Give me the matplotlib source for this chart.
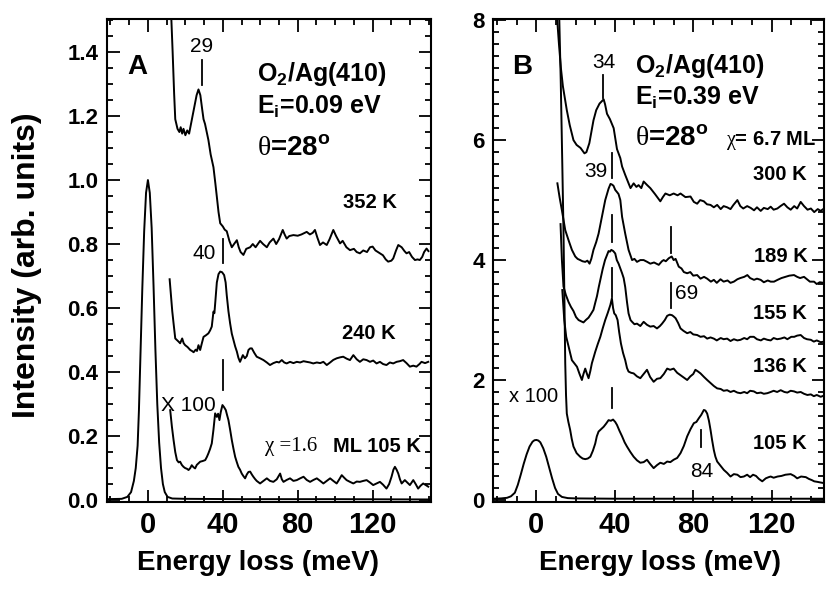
import numpy as np
import matplotlib
matplotlib.use("Agg")
import matplotlib.pyplot as plt
from matplotlib.ticker import MultipleLocator

# ---- data (energy loss meV, intensity) ----
# panel A, Ei = 0.09 eV
A_ELASTIC = [(-22, 0.003), (-14, 0.004), (-11, 0.01), (-9, 0.025), (-7.5, 0.06), (-6.5, 0.1),
             (-5.5, 0.17), (-4.8, 0.28), (-4, 0.45), (-3, 0.66), (-2, 0.84), (-1, 0.96), (0, 1.0),
             (1, 0.96), (2, 0.85), (3, 0.67), (4, 0.47), (5, 0.3), (6, 0.18), (7, 0.1), (8, 0.05),
             (9, 0.025), (10.5, 0.01), (13, 0.005), (20, 0.004), (50, 0.003), (100, 0.003), (150, 0.002)]

A_352K = [(12.2, 1.55), (13.2, 1.4), (14.0, 1.27), (14.6, 1.19), (15.8, 1.16), (16.8, 1.15), (17.5, 1.165),
          (18.3, 1.145), (19, 1.16), (20, 1.14), (21, 1.155), (22, 1.145), (23.5, 1.19), (25, 1.235),
          (26, 1.265), (27, 1.283), (28, 1.265), (29, 1.22), (29.7, 1.19), (30.5, 1.175), (32.3, 1.125),
          (33.5, 1.08), (35, 1.04), (36, 0.99), (36.8, 0.948), (37.7, 0.9), (38.6, 0.865), (40, 0.855),
          (41, 0.845), (42.1, 0.84), (43.5, 0.81), (44.8, 0.79), (46, 0.8), (47.5, 0.812), (48.5, 0.79),
          (49.5, 0.775), (51, 0.766), (52.5, 0.785), (54.6, 0.79), (56, 0.8), (57.5, 0.79), (59.9, 0.81),
          (61.5, 0.8), (63.5, 0.79), (65, 0.805), (67, 0.817), (68.5, 0.8), (70, 0.815), (72, 0.844),
          (73, 0.83), (74.1, 0.817), (75.5, 0.825), (77.7, 0.828), (80, 0.826), (82, 0.83), (84.8, 0.838),
          (86.5, 0.83), (88, 0.835), (89.2, 0.844), (90.5, 0.82), (91.9, 0.797), (93.5, 0.805),
          (95.5, 0.797), (97, 0.815), (99, 0.844), (100.5, 0.825), (102.6, 0.802), (104, 0.81),
          (106, 0.79), (107.9, 0.781), (110, 0.785), (111.5, 0.775), (113.2, 0.771), (115, 0.78),
          (117, 0.775), (118.6, 0.79), (120, 0.792), (121.5, 0.78), (123.9, 0.771), (125.5, 0.765),
          (127, 0.752), (128.3, 0.745), (130, 0.748), (131, 0.755), (132.5, 0.78), (133.7, 0.797),
          (135.5, 0.79), (137, 0.778), (138.1, 0.771), (139.5, 0.775), (141, 0.76), (142.6, 0.75),
          (144, 0.752), (145.2, 0.75), (146.5, 0.76), (147.5, 0.775), (148.8, 0.786), (149.8, 0.778)]

A_240K = [(11.6, 0.69), (12.3, 0.64), (13, 0.59), (13.7, 0.552), (14.6, 0.505), (15.5, 0.5), (16.4, 0.495),
          (17.2, 0.49), (18.3, 0.505), (19.1, 0.49), (19.9, 0.484), (21.2, 0.478), (22.6, 0.469),
          (23.5, 0.466), (24.4, 0.462), (25.5, 0.47), (26.2, 0.466), (27, 0.484), (27.9, 0.469),
          (28.8, 0.49), (29.7, 0.51), (31, 0.515), (32.3, 0.521), (33.2, 0.53), (34.1, 0.542), (35, 0.589),
          (35.5, 0.584), (36, 0.62), (36.8, 0.68), (37.7, 0.706), (38.6, 0.714), (39.6, 0.712),
          (40.7, 0.703), (41.5, 0.68), (42.1, 0.64), (43, 0.59), (43.9, 0.552), (44.8, 0.52), (45.7, 0.5),
          (46.6, 0.48), (47.5, 0.464), (48.3, 0.445), (49.2, 0.432), (50.7, 0.453), (51.8, 0.443),
          (52.8, 0.45), (53.7, 0.469), (54.6, 0.474), (55.5, 0.474), (56.8, 0.46), (58.1, 0.448),
          (59.9, 0.443), (61.7, 0.4375), (63.5, 0.43), (65.2, 0.422), (67, 0.428), (68.8, 0.432),
          (70, 0.43), (71.5, 0.4375), (72.8, 0.43), (74.1, 0.427), (75.9, 0.432), (77.7, 0.428),
          (79.5, 0.432), (81.3, 0.43), (83.1, 0.434), (84.8, 0.432), (86.6, 0.43), (88.3, 0.427),
          (90.2, 0.43), (92, 0.428), (93.7, 0.432), (95.5, 0.422), (97.3, 0.43), (99, 0.438),
          (100.8, 0.443), (102.6, 0.446), (104.3, 0.448), (106.1, 0.442), (107.9, 0.4375), (109.7, 0.453),
          (111.5, 0.44), (113.2, 0.432), (115, 0.44), (116.8, 0.4375), (118.6, 0.432), (120.3, 0.436),
          (122.1, 0.427), (123.9, 0.432), (125.6, 0.425), (127.4, 0.422), (129.2, 0.43), (131, 0.427),
          (132.8, 0.432), (134.5, 0.434), (136.3, 0.4375), (138.1, 0.428), (139.9, 0.417), (141.7, 0.42),
          (143.4, 0.417), (145, 0.425), (146.1, 0.432), (148, 0.428), (149.7, 0.432)]

A_105K = [(11.9, 0.281), (12.8, 0.23), (13.7, 0.1875), (14.6, 0.15), (15.5, 0.125), (16.4, 0.118),
          (17.2, 0.12), (18.1, 0.11), (19, 0.104), (19.9, 0.1), (20.8, 0.098), (21.7, 0.094), (22.6, 0.1),
          (23.4, 0.109), (24.3, 0.103), (25.2, 0.099), (26.1, 0.11), (27, 0.115), (27.9, 0.12),
          (29.2, 0.122), (30.6, 0.125), (31.5, 0.135), (32.3, 0.146), (33.2, 0.16), (34.1, 0.177),
          (35, 0.22), (35.9, 0.271), (36.8, 0.26), (37.5, 0.27), (38.2, 0.25), (38.9, 0.275),
          (39.8, 0.297), (40.7, 0.29), (41.6, 0.281), (42.3, 0.265), (43, 0.25), (43.9, 0.22),
          (44.8, 0.1875), (45.7, 0.16), (46.6, 0.135), (47.5, 0.118), (48.3, 0.104), (49.2, 0.095),
          (50.1, 0.083), (51, 0.075), (51.9, 0.068), (52.8, 0.08), (53.7, 0.088), (54.6, 0.089),
          (55.5, 0.08), (56.3, 0.073), (57.2, 0.066), (58.1, 0.06), (59.9, 0.052), (61.7, 0.06),
          (63.5, 0.068), (65.2, 0.06), (67, 0.057), (68.8, 0.065), (70.6, 0.083), (71.5, 0.065),
          (72.4, 0.057), (74.1, 0.063), (75.9, 0.068), (77.7, 0.06), (79.5, 0.0625), (81.3, 0.068),
          (83.1, 0.073), (84.8, 0.063), (86.6, 0.057), (88.4, 0.063), (90.2, 0.068), (92, 0.06),
          (93.7, 0.052), (95.5, 0.06), (97.3, 0.068), (99, 0.06), (100.8, 0.052), (102.2, 0.065),
          (103.5, 0.078), (104.8, 0.07), (106.1, 0.0625), (107.9, 0.057), (109.7, 0.052), (111.5, 0.058),
          (113.2, 0.057), (115, 0.06), (116.8, 0.0625), (118.6, 0.055), (120.3, 0.047), (122.1, 0.052),
          (123.9, 0.057), (125.6, 0.048), (127.4, 0.036), (128.8, 0.05), (130.1, 0.073), (131.1, 0.095),
          (131.9, 0.104), (132.8, 0.095), (133.7, 0.083), (134.6, 0.065), (135.5, 0.052), (137.2, 0.0625),
          (138.5, 0.055), (139.9, 0.047), (141.7, 0.0625), (143, 0.05), (144.3, 0.036), (145.6, 0.045),
          (147, 0.052), (148.4, 0.047), (149.7, 0.042)]

# panel B, Ei = 0.39 eV
B_ELASTIC = [(-22, 0.02), (-18, 0.025), (-15, 0.035), (-13, 0.06), (-11, 0.12), (-9.5, 0.25), (-8, 0.42),
             (-6.5, 0.6), (-5, 0.76), (-3.5, 0.89), (-2, 0.97), (-1, 0.995), (0, 1.0), (1, 0.99), (2, 0.96),
             (3.5, 0.86), (5, 0.72), (6.5, 0.54), (8, 0.36), (9.5, 0.2), (11, 0.1), (13, 0.05), (16, 0.03),
             (20, 0.025), (40, 0.02), (80, 0.02), (146, 0.02)]

B_300K = [(10.4, 8.1), (11.5, 7.6), (12.5, 7.2), (13.5, 6.9), (14.5, 6.7), (15.5, 6.5), (17, 6.25),
          (18.9, 6.0), (20.5, 5.92), (22.5, 5.87), (24.5, 5.78), (25.5, 5.8), (27, 5.95), (29.1, 6.33),
          (30.5, 6.5), (32.2, 6.61), (34.3, 6.68), (35, 6.6), (36, 6.44), (37.5, 6.35), (39.4, 6.2),
          (41.1, 5.85), (42.8, 5.7), (43.7, 5.56), (45.3, 5.42), (47, 5.28), (48, 5.2), (49.6, 5.28),
          (51, 5.22), (52.1, 5.25), (53.5, 5.2), (54.7, 5.31), (56.5, 5.25), (58.1, 5.2), (60.5, 5.1),
          (63.2, 4.98), (64.5, 5.05), (65.8, 5.11), (68, 5.08), (70, 5.11), (72, 5.08), (73.5, 5.11),
          (76, 5.05), (78.6, 5.06), (80.3, 4.97), (82, 4.94), (83.5, 5.0), (85.4, 4.98), (87, 4.93),
          (88.8, 4.92), (90.5, 4.88), (92.2, 4.92), (94, 4.85), (95.5, 4.9), (97.3, 4.88), (99, 4.85),
          (100.5, 4.92), (102.5, 5.0), (104, 4.9), (105.5, 4.86), (107.5, 4.9), (109.3, 4.87), (111, 4.83),
          (112.5, 4.88), (114.4, 4.82), (116, 4.87), (118, 4.85), (119.5, 4.89), (121, 4.84), (122.9, 4.86),
          (124.5, 4.9), (126.3, 4.94), (128, 4.88), (129.7, 4.84), (131.5, 4.9), (133, 4.86), (134.8, 4.97),
          (136.5, 4.9), (138.3, 4.84), (140, 4.86), (141.7, 4.8), (143.5, 4.85), (145, 4.82), (146.7, 4.86)]

B_189K = [(10.7, 5.28), (11.8, 5.05), (13, 4.83), (14.7, 4.5), (16.4, 4.33), (18.1, 4.17), (19.8, 4.06),
          (21, 4.02), (22.3, 4.0), (23.5, 3.98), (24.9, 3.97), (26, 3.99), (27.1, 3.94), (28, 4.02),
          (29.1, 4.17), (30.5, 4.3), (31.7, 4.44), (33.4, 4.72), (35.1, 5.0), (36.8, 5.19), (37.8, 5.27),
          (38.5, 5.26), (39.3, 5.24), (40.2, 5.17), (41.2, 5.13), (41.9, 5.1), (42.8, 5.0), (43.7, 4.72),
          (45.3, 4.44), (47, 4.17), (48.8, 4.0), (50, 4.02), (51.3, 3.97), (53, 4.0), (54.7, 4.0),
          (56.5, 3.97), (58.1, 3.94), (60, 3.96), (62.4, 3.92), (64, 3.98), (64.9, 4.0), (66, 3.98),
          (67.5, 4.03), (69, 4.06), (70, 4.0), (71, 4.02), (72.6, 3.89), (74, 3.86), (75.2, 3.8),
          (76.9, 3.78), (78.5, 3.8), (80, 3.74), (82, 3.75), (83.7, 3.69), (85.5, 3.72), (87.1, 3.69),
          (89, 3.64), (90.5, 3.67), (92, 3.62), (93.9, 3.68), (95.5, 3.64), (97.5, 3.66), (99, 3.62),
          (100.7, 3.64), (102.5, 3.68), (104, 3.7), (106, 3.72), (107.6, 3.75), (109, 3.7), (111, 3.67),
          (112.5, 3.69), (114.4, 3.67), (116, 3.63), (118, 3.66), (119.5, 3.64), (121.2, 3.64), (123, 3.67),
          (125, 3.7), (127, 3.72), (129, 3.74), (131.4, 3.75), (133, 3.72), (134.5, 3.7), (136.5, 3.72),
          (138, 3.68), (139.5, 3.64), (141.6, 3.64), (143, 3.6), (144.5, 3.63), (146.5, 3.62)]

B_155K = [(12.3, 4.6), (13, 4.0), (13.8, 3.56), (15, 3.42), (16.4, 3.3), (17.6, 3.22), (18.9, 3.15),
          (20.2, 3.05), (21.5, 3.0), (22.7, 2.98), (24, 2.96), (25.2, 3.0), (26.6, 3.04), (27.8, 3.1),
          (29.1, 3.17), (30.1, 3.3), (30.9, 3.4), (31.8, 3.55), (32.6, 3.67), (33.8, 3.85), (35, 4.0),
          (36.2, 4.1), (36.8, 4.15), (37.5, 4.14), (38.2, 4.17), (39.2, 4.15), (40.2, 4.11), (41, 4.0),
          (41.9, 3.94), (42.8, 3.86), (43.7, 3.78), (44.5, 3.7), (45.3, 3.55), (46.2, 3.3), (47, 3.11),
          (48, 3.0), (48.8, 2.97), (50, 2.93), (51.3, 2.94), (53, 2.9), (54.7, 2.97), (56.4, 2.92),
          (58.1, 2.89), (59.8, 2.9), (61.5, 2.86), (63, 2.9), (64.1, 2.94), (65.5, 3.0), (66.7, 3.07),
          (68, 3.09), (69.2, 3.08), (70, 3.06), (71, 3.03), (72.3, 2.95), (73.5, 2.86), (75, 2.82),
          (76.9, 2.78), (78.5, 2.8), (80, 2.76), (82, 2.75), (83.7, 2.72), (85.5, 2.73), (87.1, 2.69),
          (88.8, 2.71), (90.5, 2.69), (92, 2.66), (94, 2.7), (95.5, 2.68), (97.3, 2.69), (99, 2.65),
          (100.7, 2.68), (102.5, 2.66), (104.1, 2.67), (106, 2.7), (107.5, 2.68), (109, 2.72), (110.9, 2.72),
          (112.5, 2.68), (114.5, 2.66), (116, 2.69), (117.8, 2.67), (119.5, 2.66), (121, 2.7), (122.8, 2.68),
          (124.6, 2.69), (126.5, 2.71), (128, 2.68), (130, 2.72), (131.5, 2.72), (133, 2.74), (134.8, 2.75),
          (136.5, 2.7), (138, 2.68), (140, 2.67), (141.5, 2.64), (143, 2.66), (145, 2.63), (146.7, 2.64)]

B_136K = [(13.2, 3.5), (14.2, 3.0), (15.2, 2.72), (16.4, 2.56), (17.2, 2.45), (18.1, 2.33), (19.3, 2.28),
          (20.7, 2.22), (22, 2.1), (23.2, 2.0), (24, 2.1), (24.9, 2.19), (25.8, 2.1), (26.6, 2.03),
          (27.5, 2.15), (28.3, 2.28), (29.2, 2.38), (30, 2.47), (31.3, 2.6), (32.6, 2.72), (33.8, 2.86),
          (35.1, 3.0), (36.4, 3.12), (37.7, 3.25), (38.5, 3.36), (39.1, 3.2), (39.7, 3.11), (40.5, 3.08),
          (41.4, 3.0), (42.2, 2.8), (43.1, 2.61), (44.2, 2.45), (45.3, 2.33), (46.2, 2.2), (47, 2.14),
          (48.3, 2.12), (49.6, 2.11), (51.3, 2.06), (53, 2.03), (54.7, 2.1), (56.4, 2.17), (58, 2.05),
          (59.8, 1.97), (61.5, 2.02), (63.2, 2.03), (65, 2.1), (66.7, 2.19), (68.2, 2.17), (70, 2.19),
          (71.8, 2.12), (73.5, 2.08), (75.2, 2.04), (76.9, 2.0), (78.5, 2.06), (80, 2.1), (81.1, 2.17),
          (82.5, 2.14), (83.7, 2.11), (85.5, 2.05), (87.1, 2.0), (88.8, 1.95), (90.5, 1.9), (92.2, 1.86),
          (94, 1.85), (95.5, 1.82), (97.3, 1.83), (99, 1.8), (100.7, 1.82), (102.5, 1.79), (104.1, 1.78),
          (106, 1.8), (107.5, 1.78), (109, 1.82), (110.9, 1.81), (112.5, 1.78), (114.5, 1.79), (116, 1.77),
          (117.8, 1.78), (119.5, 1.8), (121, 1.82), (122.8, 1.8), (124.6, 1.83), (126.5, 1.8), (128, 1.79),
          (129.7, 1.82), (131.4, 1.81), (133, 1.79), (134.8, 1.8), (136.5, 1.77), (138.2, 1.75), (140, 1.76),
          (141.5, 1.73), (143, 1.75), (145, 1.72), (146.7, 1.74)]

B_105K = [(11.6, 8.1), (12.4, 7.0), (13.2, 5.6), (13.8, 4.5), (14.3, 3.3), (14.7, 2.28), (15.1, 1.75),
          (15.5, 1.44), (16.3, 1.3), (17.2, 1.17), (18, 1.02), (18.9, 0.89), (20.5, 0.78), (22.3, 0.72),
          (23.6, 0.69), (24.9, 0.68), (26.2, 0.69), (27.5, 0.72), (28.8, 0.82), (30, 0.94), (30.8, 1.06),
          (31.7, 1.14), (33, 1.18), (34.3, 1.22), (35.5, 1.27), (36.8, 1.33), (38, 1.32), (39.1, 1.34),
          (40.2, 1.3), (41.1, 1.25), (42.4, 1.15), (43.7, 1.06), (45, 0.96), (46.2, 0.89), (47.9, 0.8),
          (49.6, 0.72), (51.3, 0.66), (53, 0.62), (54.7, 0.63), (56.4, 0.67), (58, 0.6), (59.8, 0.53),
          (61.5, 0.58), (63.2, 0.62), (65, 0.6), (66.7, 0.64), (68.3, 0.63), (70, 0.67), (71.8, 0.7),
          (73.5, 0.78), (75.2, 0.9), (76.9, 1.06), (78.6, 1.18), (80.3, 1.28), (81.6, 1.3), (82.8, 1.36),
          (84.1, 1.42), (85.4, 1.5), (86.2, 1.49), (87.1, 1.44), (88, 1.32), (88.8, 1.17), (89.6, 1.0),
          (90.5, 0.83), (91.3, 0.72), (92.2, 0.64), (93.9, 0.57), (95.6, 0.5), (97.3, 0.45), (99, 0.39),
          (100.7, 0.43), (102.5, 0.42), (104.1, 0.38), (105.8, 0.39), (107.5, 0.42), (109, 0.38),
          (110.5, 0.42), (112, 0.4), (113.5, 0.35), (115.2, 0.31), (117, 0.36), (118.5, 0.38), (119.5, 0.39),
          (121, 0.37), (123, 0.39), (125, 0.4), (127, 0.42), (129.7, 0.43), (131.5, 0.4), (133, 0.36),
          (135, 0.39), (137.4, 0.38), (139, 0.35), (140.5, 0.33), (141.7, 0.31), (143.5, 0.3), (145, 0.29),
          (146.7, 0.28)]

# peak marker bars: (energy, y_low, y_high)
A_MARKS = [(28.8, 1.297, 1.375), (40, 0.74, 0.816), (40, 0.344, 0.4375)]
B_MARKS = [(34, 6.70, 7.08), (38.7, 5.37, 5.78), (38.7, 4.30, 4.75), (38.7, 3.38, 3.87),
           (38.7, 1.53, 1.87), (68.7, 4.12, 4.55), (68.7, 3.20, 3.62), (84, 0.89, 1.17)]

# temperature labels: (text, energy, intensity)
A_TEMPS = [("352 K", 118.6, 0.93), ("240 K", 118.0, 0.52)]
B_TEMPS = [("300 K", 124.0, 5.42), ("189 K", 124.5, 4.06), ("155 K", 124.3, 3.11),
           ("136 K", 124.3, 2.22), ("105 K", 124.3, 0.94)]


plt.rcParams['font.family'] = ['Liberation Sans', 'DejaVu Sans']
plt.rcParams['mathtext.fontset'] = 'custom'
plt.rcParams['mathtext.rm'] = 'Liberation Serif'
plt.rcParams['mathtext.bf'] = 'Liberation Sans:bold'
plt.rcParams['mathtext.it'] = 'Liberation Sans:italic'
plt.rcParams['mathtext.sf'] = 'Liberation Sans'

fig = plt.figure(figsize=(8.26, 5.89), dpi=100)
axA = fig.add_axes([0.1292, 0.1482, 0.3922, 0.8195])
axB = fig.add_axes([0.5972, 0.1482, 0.4004, 0.8195])

LW = 1.4


def style_axis(ax, xlim, ylim, ymaj, ymin, yfmt):
    ax.set_xlim(*xlim)
    ax.set_ylim(*ylim)
    ax.xaxis.set_major_locator(MultipleLocator(40))
    ax.xaxis.set_minor_locator(MultipleLocator(10))
    ax.yaxis.set_major_locator(MultipleLocator(ymaj))
    ax.yaxis.set_minor_locator(MultipleLocator(ymin))
    ax.yaxis.set_major_formatter(yfmt)
    ax.tick_params(which='both', direction='in', top=True, right=True, width=1.3, color='black')
    ax.tick_params(which='major', length=9)
    ax.tick_params(which='minor', length=4.5)
    ax.tick_params(axis='x', labelsize=21, pad=7)
    ax.tick_params(axis='y', labelsize=16, pad=6)
    for lab in ax.get_xticklabels() + ax.get_yticklabels():
        lab.set_fontweight('bold')
    for sp in ax.spines.values():
        sp.set_linewidth(1.5)


def draw(ax, pairs):
    arr = np.array(pairs)
    ax.plot(arr[:, 0], arr[:, 1], color='black', lw=LW, solid_joinstyle='round')


# ── Panel A ──────────────────────────────────────────────
for curve in (A_ELASTIC, A_352K, A_240K, A_105K):
    draw(axA, curve)
for x, y0, y1 in A_MARKS:
    axA.plot([x, x], [y0, y1], color='black', lw=1.3)
style_axis(axA, (-22, 151), (-0.005, 1.503), 0.2, 0.05, '{x:.1f}')

axA.text(-5.9, 1.354, "A", ha='center', va='center', fontsize=20, fontweight='bold')
axA.text(28.8, 1.417, "29", ha='center', va='center', fontsize=15)
axA.text(30.0, 0.77, "40", ha='center', va='center', fontsize=15)
axA.text(21.6, 0.297, "X 100", ha='center', va='center', fontsize=15)
axA.text(58, 1.331, r"O$_{\mathbf{2}}$/Ag(410)", ha='left', va='center', fontsize=18, fontweight='bold')
axA.text(58, 1.229, r"E$_{\mathbf{i}}$=0.09 eV", ha='left', va='center', fontsize=18, fontweight='bold')
axA.text(58, 1.10, r"$\mathrm{\theta}$=28$^{\mathbf{o}}$", ha='left', va='center', fontsize=20,
         fontweight='bold')
for label, x, y in A_TEMPS:
    axA.text(x, y, label, ha='center', va='center', fontsize=14.5, fontweight='bold')
axA.text(62.6, 0.167, "\u03c7 =1.6", ha='left', va='center', fontsize=15, family='Liberation Serif')
axA.text(98.8, 0.167, "ML 105 K", ha='left', va='center', fontsize=14.5, fontweight='bold')

# ── Panel B ──────────────────────────────────────────────
for curve in (B_ELASTIC, B_300K, B_189K, B_155K, B_136K, B_105K):
    draw(axB, curve)
for x, y0, y1 in B_MARKS:
    axB.plot([x, x], [y0, y1], color='black', lw=1.3)
style_axis(axB, (-22, 146.7), (-0.03, 8.02), 2, 0.2, '{x:.0f}')

axB.text(-7.5, 7.22, "B", ha='center', va='center', fontsize=20, fontweight='bold')
axB.text(34.6, 7.30, "34", ha='center', va='center', fontsize=15)
axB.text(30.5, 5.47, "39", ha='center', va='center', fontsize=15)
axB.text(70.9, 3.44, "69", ha='left', va='center', fontsize=15)
axB.text(84.1, 0.47, "84", ha='center', va='center', fontsize=15)
axB.text(-1.7, 1.72, "x 100", ha='center', va='center', fontsize=14.5)
axB.text(50.5, 7.24, r"O$_{\mathbf{2}}$/Ag(410)", ha='left', va='center', fontsize=18, fontweight='bold')
axB.text(50.5, 6.71, r"E$_{\mathbf{i}}$=0.39 eV", ha='left', va='center', fontsize=18, fontweight='bold')
axB.text(50.2, 6.03, r"$\mathrm{\theta}$=28$^{\mathbf{o}}$", ha='left', va='center', fontsize=20,
         fontweight='bold')
axB.text(96.5, 6.0, r"$\mathrm{\chi}$= 6.7 ML", ha='left', va='center', fontsize=14.5, fontweight='bold',
         clip_on=False)
for label, x, y in B_TEMPS:
    axB.text(x, y, label, ha='center', va='center', fontsize=14.5, fontweight='bold')

# axis titles
fig.text(27 / 826, 1 - 265 / 589, "Intensity (arb. units)", rotation=90, ha='center', va='center',
         fontsize=23, fontweight='bold')
fig.text(258 / 826, 1 - 563 / 589, "Energy loss (meV)", ha='center', va='center', fontsize=20,
         fontweight='bold')
fig.text(660 / 826, 1 - 563 / 589, "Energy loss (meV)", ha='center', va='center', fontsize=20,
         fontweight='bold')

fig.savefig("out.png", dpi=100)
